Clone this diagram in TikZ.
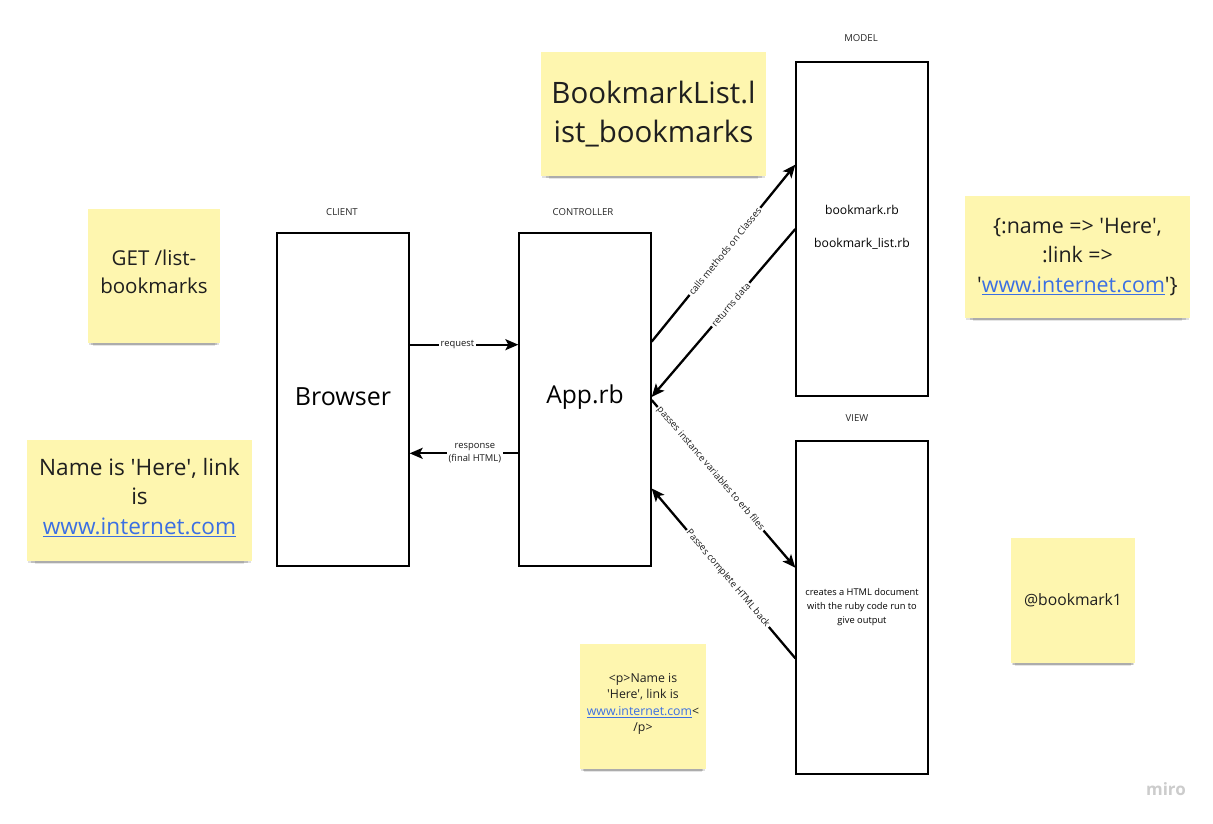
\documentclass[tikz,border=0pt]{standalone}
\usepackage{fontspec}
\setmainfont{Open Sans}[Ligatures=TeXOff]
\usetikzlibrary{arrows.meta,calc,shadows}
\definecolor{stickyyellow}{HTML}{FEF6AF}
\definecolor{linkblue}{HTML}{3B6FE3}
\newcommand{\lnk}[1]{{\color{linkblue}\underline{#1}}}
\newcommand{\fs}[1]{\fontsize{#1}{1.3\dimexpr#1\relax}\selectfont}
\tikzset{
  box/.style={draw=black, line width=1.3pt, fill=white, minimum width=132pt, minimum height=333pt, inner sep=0pt},
  sticky/.style={fill=stickyyellow, inner sep=2pt, align=center, text=black!88,
    drop shadow={shadow xshift=0pt, shadow yshift=-8pt, shadow scale=0.93, opacity=0.10, fill=black},
    drop shadow={shadow xshift=0pt, shadow yshift=-5pt, shadow scale=0.96, opacity=0.14, fill=black},
    drop shadow={shadow xshift=0pt, shadow yshift=-2.5pt, shadow scale=0.99, opacity=0.12, fill=black}},
  stickytext/.style={align=center, text=black!88},
  toplabel/.style={font=\fs{9.6pt}, text=black!85},
  arr/.style={line width=2.3pt, -{Stealth[length=13pt,width=11pt,inset=3pt]}},
  lbl/.style={font=\fs{9.4pt}, fill=white, inner sep=1.5pt, text=black!90, align=center},
}
\begin{document}
\begin{tikzpicture}[x=1pt,y=-1pt]
\useasboundingbox (0,0) rectangle (1213,823);
\fill[white] (0,0) rectangle (1213,823);

% sticky notes
\node[sticky, minimum width=225pt, minimum height=124pt, font=\fs{29.5pt}] (bl) at (653.5,114) {BookmarkList.l\\[1pt]ist\_bookmarks};
\node[sticky, minimum width=132pt, minimum height=134pt] (get) at (154,276) {};
\node[stickytext, font=\fs{20.5pt}] (gettxt) at ($(get.center)+(0,-4.5)$) {GET /list-\\[1pt]bookmarks};
\node[sticky, minimum width=225pt, minimum height=121pt] (name) at (139.5,500.5) {};
\node[stickytext, font=\fs{22.6pt}] (nametxt) at ($(name.center)+(0,-3)$) {Name is 'Here', link\\is\\\lnk{www.internet.com}};
\node[sticky, minimum width=225pt, minimum height=122pt, font=\fs{21.4pt}] (hash) at (1077.5,257) {\{:name => 'Here',\\[1.5pt]:link =>\\[1.5pt]'\lnk{www.internet.com}'\}};
\node[sticky, minimum width=124pt, minimum height=125pt, font=\fs{15.7pt}] (bm) at (1073,600.5) {@bookmark1};
\node[sticky, minimum width=126pt, minimum height=125pt] (html) at (643,706.5) {};
\node[stickytext, font=\fs{12.3pt}] (htmltxt) at ($(html.center)+(0,-2.5)$) {<p>Name is\\[0.5pt]'Here', link is\\[0.5pt]\lnk{www.internet.com}<\\[0.5pt]/p>};

% boxes
\node[box] (browser) at (343,399.5) {};
\node[font=\fs{25pt}] (browsertxt) at (343,397) {Browser};
\node[toplabel] (client) at (342,212) {CLIENT};

\node[box] (app) at (585,399.5) {};
\node[font=\fs{24.6pt}] (apptxt) at (585,397) {App.rb};
\node[toplabel] (controller) at (583,212) {CONTROLLER};

\node[box, minimum height=334pt] (model) at (862,229) {};
\node[font=\fs{12.2pt}, align=center] (modeltxt) at (862,227.5) {bookmark.rb\\[17pt]bookmark\_list.rb};
\node[toplabel] (modellbl) at (861,38) {MODEL};

\node[box] (view) at (862,607.5) {};
\node[font=\fs{9.3pt}, align=center] (viewtxt) at (862,607) {creates a HTML document\\[1.5pt]with the ruby code run to\\[1.5pt]give output};
\node[toplabel] (viewlbl) at (857,418) {VIEW};

% connectors
\draw[arr] ($(browser.north east)!0.336!(browser.south east)$) -- node[lbl, pos=0.44] {request} ($(app.north west)!0.336!(app.south west)$);
\draw[arr] ($(app.north west)!0.661!(app.south west)$) -- node[lbl, pos=0.4] {response\\[0.5pt](final HTML)} ($(browser.north east)!0.661!(browser.south east)$);

\draw[arr] ($(app.north east)!0.327!(app.south east)$) -- node[lbl, sloped, pos=0.51] {calls methods on Classes} ($(model.north west)!0.308!(model.south west)$);
\draw[arr] ($(model.north west)!0.5!(model.south west)$) -- node[lbl, sloped, pos=0.45] {returns data} ($(app.north east)!0.4925!(app.south east)$);
\draw[arr] ($(app.north east)!0.5015!(app.south east)$) -- node[lbl, sloped, pos=0.41] {passes instance variables to erb files} ($(view.north west)!0.381!(view.south west)$);
\draw[arr] ($(view.north west)!0.652!(view.south west)$) -- node[lbl, sloped, pos=0.47] {Passes complete HTML back} ($(app.north east)!0.766!(app.south east)$);

\node[font=\bfseries\fs{17pt}, text=black!20] (miro) at (1166,789) {miro};
\end{tikzpicture}
\end{document}
